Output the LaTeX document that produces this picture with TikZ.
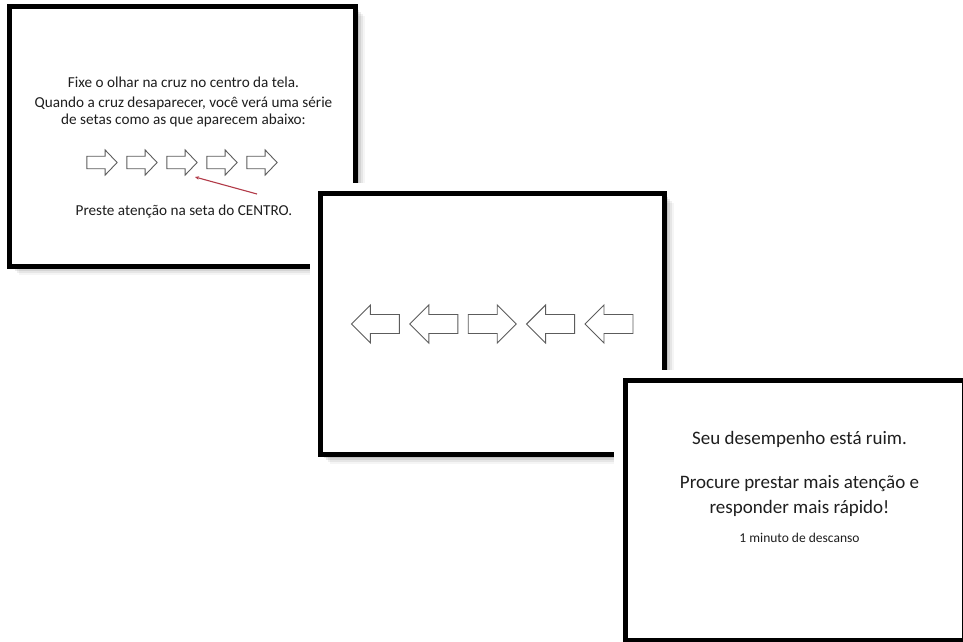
\documentclass[tikz,border=0pt]{standalone}
\usepackage{fontspec}
\setmainfont{Carlito}
\usepackage{tikz}
\usetikzlibrary{arrows.meta, positioning}
\definecolor{telavermelho}{HTML}{B23A48}
\definecolor{telatexto}{HTML}{1E1E1E}
\definecolor{setacinza}{HTML}{5C5C5C}

\begin{document}
\begin{tikzpicture}[x=1pt, y=-1pt,
    tela/.style={draw=black, line width=5pt, fill=white,
        preaction={draw=white, line width=22pt},
        preaction={fill=black, opacity=0.10, transform canvas={shift={(3pt,-3pt)}}},
        preaction={fill=black, opacity=0.08, transform canvas={shift={(5pt,-5pt)}}},
        preaction={fill=black, opacity=0.06, transform canvas={shift={(7pt,-7pt)}}},
        preaction={fill=black, opacity=0.04, transform canvas={shift={(9pt,-9pt)}}}},
    texto/.style={text=telatexto, inner sep=0pt, anchor=base},
    pics/seta/.style={code={
        \draw[setacinza, line width=0.9pt, fill=white]
            (-24,-9.5) -- (5,-9.5) -- (5,-19) -- (24,0) -- (5,19) -- (5,9.5) -- (-24,9.5) -- cycle;}}]
\useasboundingbox (0,0) rectangle (963,641);
\clip (0,0) rectangle (963,641);

% primeira tela: instrucoes
\draw[tela] (9.5,6.5) rectangle (355.5,266);
\node[texto, font=\fontsize{15.2}{18}\selectfont] (fixe) at (183.5,87) {Fixe o olhar na cruz no centro da tela.};
\node[texto, font=\fontsize{15.2}{18}\selectfont] (quando) at (183.5,107) {Quando a cruz desaparecer, você verá uma série};
\node[texto, font=\fontsize{15.2}{18}\selectfont] (setas) at (183.5,124) {de setas como as que aparecem abaixo:};
\foreach \i in {1,...,5}
    \pic[xscale=0.63, yscale=0.66] at ({62 + \i*40}, 162.5) {seta};
\node[texto, font=\fontsize{15.2}{18}\selectfont] (preste) at (184,215) {Preste atenção na seta do CENTRO.};
\coordinate (alvo) at (195,177);
\coordinate (origem) at (257,194);
\draw[telavermelho, line width=1.1pt, {Stealth[length=4pt, width=3.5pt]}-] (alvo) -- (origem);

% segunda tela: flanqueadores
\draw[tela] (320.5,193.5) rectangle (664.5,454.5);
\foreach \rot [count=\i] in {180, 180, 0, 180, 180}
    \pic[rotate=\rot] at ({317 + \i*58.4}, 324) {seta};

% terceira tela: feedback
\draw[tela] (625,380.5) rectangle (964.5,640.5);
\node[texto, font=\fontsize{19}{22}\selectfont] (seu) at (799.5,444) {Seu desempenho está ruim.};
\node[texto, font=\fontsize{19}{22}\selectfont] (procure) at (799.5,488) {Procure prestar mais atenção e};
\node[texto, font=\fontsize{19}{22}\selectfont] (responder) at (799.5,513) {responder mais rápido!};
\node[texto, font=\fontsize{13.5}{16}\selectfont] (minuto) at (799.5,542) {1 minuto de descanso};
\end{tikzpicture}
\end{document}
